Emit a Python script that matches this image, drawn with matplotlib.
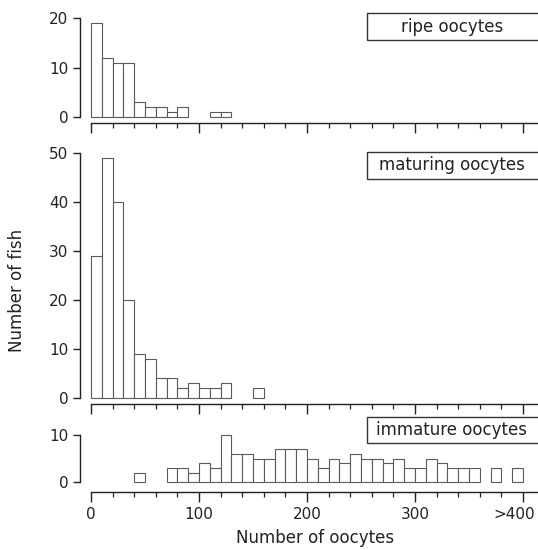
import numpy as np
import matplotlib
matplotlib.use("Agg")
import matplotlib.pyplot as plt
import matplotlib.transforms as mtransforms
from matplotlib.patches import Rectangle
from matplotlib.ticker import MultipleLocator, FixedLocator

# histogram bins (oocyte counts), 10 wide, last one shown as >400
bin_left = np.arange(0, 400, 10)

ripe = [19, 12, 11, 11, 3, 2, 2, 1, 2, 0,
        0, 1, 1, 0, 0, 0, 0, 0, 0, 0,
        0, 0, 0, 0, 0, 0, 0, 0, 0, 0,
        0, 0, 0, 0, 0, 0, 0, 0, 0, 0]

maturing = [29, 49, 40, 20, 9, 8, 4, 4, 2, 3,
            2, 2, 3, 0, 0, 2, 0, 0, 0, 0,
            0, 0, 0, 0, 0, 0, 0, 0, 0, 0,
            0, 0, 0, 0, 0, 0, 0, 0, 0, 0]

immature = [0, 0, 0, 0, 2, 0, 0, 3, 3, 2,
            4, 3, 10, 6, 6, 5, 5, 7, 7, 7,
            5, 3, 5, 4, 6, 5, 5, 4, 5, 3,
            3, 5, 4, 3, 3, 3, 0, 3, 0, 3]

panel_names = ["ripe oocytes", "maturing oocytes", "immature oocytes"]
y_ticks = [[0, 10, 20], [0, 10, 20, 30, 40, 50], [0, 10]]
x_ticks = [0, 100, 200, 300, 400]
x_ticklabels = ["0", "100", "200", "300", ">400"]

plt.rcParams['font.family'] = ['DejaVu Sans']

W, H = 538, 550
fig = plt.figure(figsize=(W / 100, H / 100), dpi=100)

# axes boxes in pixels: (top, bottom) and y-limits
layout = [
    (13.0, 123.0, (-1.2, 21)),
    (143.2, 403.9, (-1.2, 52)),
    (430.3, 491.9, (-2.1, 11)),
]
# label boxes in pixels: (top, bottom)
label_boxes = [(13, 40), (152, 179), (417, 443)]

ink = "#222222"
left_px = 80

for i, (counts, name) in enumerate(zip([ripe, maturing, immature], panel_names)):
    top, bot, ylim = layout[i]
    ax = fig.add_axes([left_px / W, 1 - bot / H, 1 - left_px / W, (bot - top) / H])
    counts = np.asarray(counts)
    m = counts > 0
    ax.bar(bin_left[m], counts[m], width=10, align="edge",
           facecolor="white", edgecolor="#5a5a5a", linewidth=0.8)

    ax.set_xlim(-10.2, 413.9)
    ax.set_ylim(*ylim)
    for s in ["top", "right"]:
        ax.spines[s].set_visible(False)
    ax.spines["left"].set_bounds(0, y_ticks[i][-1])
    ax.spines["bottom"].set_bounds(0, 420)
    for s in ["left", "bottom"]:
        ax.spines[s].set_color(ink)
        ax.spines[s].set_linewidth(1.0)

    ax.set_yticks(y_ticks[i])
    ax.xaxis.set_major_locator(FixedLocator(x_ticks + [500]))
    ax.xaxis.set_minor_locator(MultipleLocator(20))
    ax.tick_params(axis="y", direction="out", length=5, width=1, pad=3.5,
                   labelsize=11, colors=ink)
    ax.tick_params(axis="x", which="major", direction="out", length=7, width=1,
                   pad=4, labelsize=11, colors=ink)
    ax.tick_params(axis="x", which="minor", direction="out", length=3.5, width=0.9,
                   colors=ink)
    if i < 2:
        ax.set_xticklabels([])
    else:
        ax.set_xticklabels(x_ticklabels + [""])
        last = ax.get_xticklabels()[4]
        shift = mtransforms.ScaledTranslation(-9 / 100, 0, fig.dpi_scale_trans)
        last.set_transform(last.get_transform() + shift)

    # label box running off the right edge
    bt, bb = label_boxes[i]
    fig.patches.append(Rectangle((367 / W, 1 - bb / H), (545 - 367) / W, (bb - bt) / H,
                                 transform=fig.transFigure, facecolor="white",
                                 edgecolor="#333333", linewidth=1.0))
    fig.text(452 / W, 1 - (bt + bb) / 2 / H, name, ha="center", va="center",
             fontsize=12, color=ink)

fig.text(17 / W, 1 - 290 / H, "Number of fish", rotation=90, ha="center",
         va="center", fontsize=12, color=ink)
fig.text(315 / W, 1 - 538 / H, "Number of oocytes", ha="center", va="center",
         fontsize=12, color=ink)

fig.savefig("out.png", dpi=100)
